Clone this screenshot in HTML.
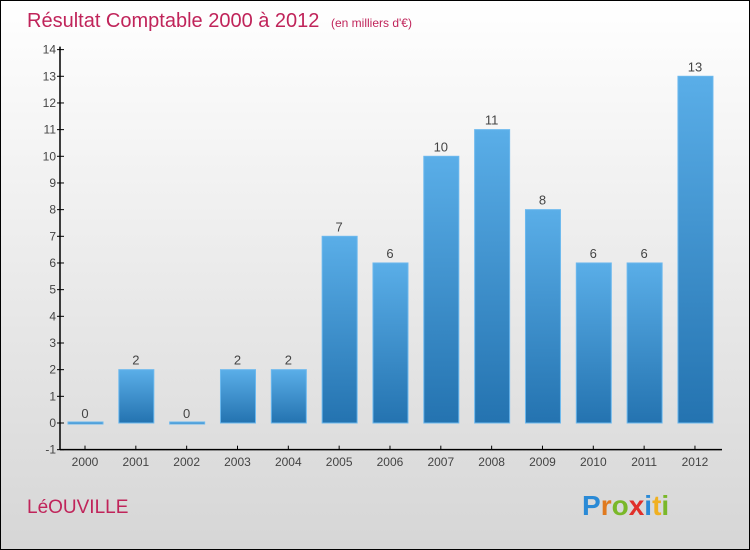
<!DOCTYPE html>
<html><head><meta charset="utf-8"><style>
html,body{margin:0;padding:0}
body{width:750px;height:550px;overflow:hidden;font-family:"Liberation Sans",sans-serif}
#wrap{position:absolute;left:0;top:0;width:748px;height:548px;border:1px solid #000;background:linear-gradient(#ffffff,#d6d6d6)}
</style></head><body>
<div id="wrap">
<svg id="chart" width="750" height="550" style="position:absolute;left:-1px;top:-1px">
<defs><linearGradient id="bg" x1="0" y1="0" x2="0" y2="1"><stop offset="0" stop-color="#5aaee8"/><stop offset="1" stop-color="#2473b0"/></linearGradient></defs>
<text x="27" y="27" font-size="20" fill="#c0245a">Résultat Comptable 2000 à 2012 <tspan font-size="12" dx="6">(en milliers d'€)</tspan></text>
<text x="27" y="513" font-size="19" fill="#c0245a">LéOUVILLE</text>
<text x="582" y="515" font-size="28" font-weight="bold"><tspan fill="#2a8ad6">P</tspan><tspan fill="#e07a1f">r</tspan><tspan fill="#7ab829">o</tspan><tspan fill="#e0302a">x</tspan><tspan fill="#2a8ad6">i</tspan><tspan fill="#f0b020">t</tspan><tspan fill="#7ab829">i</tspan></text>
<g id="axes"></g><g id="bars"></g>
</svg></div>
<script>
const years=["2000","2001","2002","2003","2004","2005","2006","2007","2008","2009","2010","2011","2012"];
const values=[0,2,0,2,2,7,6,10,11,8,6,6,13];
const yTicks=[-1,0,1,2,3,4,5,6,7,8,9,10,11,12,13,14];
const NS="http://www.w3.org/2000/svg";
const y=v=>423-(v)*26.67;
const x=i=>85+i*50.83;
function mk(t,a,p,txt){const e=document.createElementNS(NS,t);for(const k in a)e.setAttribute(k,a[k]);if(txt!==undefined)e.textContent=txt;p.appendChild(e);return e;}
const ax=document.getElementById('axes'),bars=document.getElementById('bars');
let l=mk('line',{x1:60,y1:y(14)-3,x2:60,y2:y(-1),stroke:'#000','stroke-width':1.5},ax);

l=mk('line',{x1:60,y1:y(-1),x2:722,y2:y(-1),stroke:'#000','stroke-width':1.5},ax);

yTicks.forEach(v=>{mk('line',{x1:57,y1:y(v),x2:64,y2:y(v),stroke:'#000'},ax);
 const t=mk('text',{x:56,y:y(v)+4,'font-size':12,fill:'#444','text-anchor':'end'},ax,String(v));
 });
years.forEach((yr,i)=>{mk('line',{x1:x(i),y1:y(-1)-4,x2:x(i),y2:y(-1),stroke:'#000'},ax);
 const t=mk('text',{x:x(i),y:466,'font-size':12,fill:'#444','text-anchor':'middle'},ax,yr);
 
 const v=values[i],top=y(Math.max(v,0)),h=Math.max(Math.abs(y(v)-y(0)),2);
 const r=mk('rect',{x:x(i)-17,y:v===0?y(0)-1:top,width:35,height:h,fill:'url(#bg)',stroke:'#6bb8ee','stroke-width':1},bars);
 
 const lb=mk('text',{x:x(i),y:(v===0?y(0):top)-5,'font-size':13,fill:'#444','text-anchor':'middle'},bars,String(v));
 });
</script></body></html>
